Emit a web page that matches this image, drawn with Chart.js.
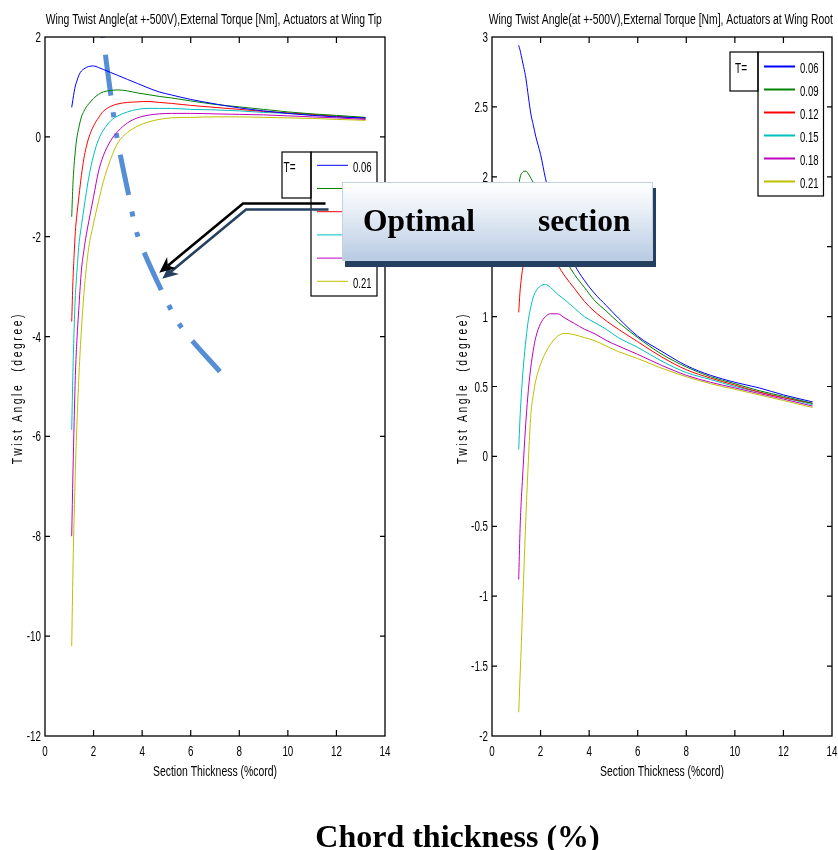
<!DOCTYPE html>
<html>
<head>
<meta charset="utf-8">
<script src="https://cdn.jsdelivr.net/npm/chart.js@4.4.1/dist/chart.umd.min.js"></script>
<style>
html,body{margin:0;padding:0;background:#fff;}
#page{position:relative;width:838px;height:850px;overflow:hidden;background:#fff;}
#page canvas{position:absolute;top:0;}
#cTip{left:0;}
#cRoot{left:420px;}
#arrow{position:absolute;left:0;top:0;}
#callout{position:absolute;left:342px;top:182px;width:311px;height:79px;box-sizing:border-box;
  border:1px solid #c3d1e4;
  background:linear-gradient(to bottom,#ffffff 0%,#edf2f8 30%,#b8cbe3 100%);
  box-shadow:3px 6px 0 #243f60;}
#callout div{position:absolute;left:20px;top:22.3px;font:bold 31.5px 'Liberation Serif','Times New Roman',serif;
  line-height:31.5px;white-space:nowrap;word-spacing:55px;color:#000;}
#chord{position:absolute;left:457.5px;top:820px;transform:translateX(-50%);
  font:bold 32px 'Liberation Serif','Times New Roman',serif;line-height:32px;white-space:nowrap;color:#000;}
</style>
</head>
<body>
<div id="page">
  <canvas id="cTip" width="420" height="790"></canvas>
  <canvas id="cRoot" width="418" height="790"></canvas>
  <svg id="arrow" width="838" height="850" xmlns="http://www.w3.org/2000/svg">
    <g transform="translate(3,6)">
      <polyline points="325.5,203.5 243,203.5 167.8,265.7" fill="none" stroke="#254061" stroke-width="2.6"/>
      <polygon points="159.3,272.7 176.1,267.9 167.8,265.7 167.1,257.1" fill="#254061"/>
    </g>
    <polyline points="325.5,203.5 243,203.5 167.8,265.7" fill="none" stroke="#000" stroke-width="2.6"/>
    <polygon points="159.3,272.7 176.1,267.9 167.8,265.7 167.1,257.1" fill="#000"/>
  </svg>
  <div id="callout"><div>Optimal section</div></div>
  <div id="chord">Chord thickness (%)</div>
</div>
<script>
// ---------------- DATA ----------------
const thickness = [1.1, 1.15, 1.2, 1.25, 1.3, 1.4, 1.5, 1.6, 1.7, 1.8, 2.0, 2.2, 2.4, 2.7, 3.0, 3.4, 3.8, 4.2, 4.7, 5.2, 6.0, 7.0, 8.0, 9.0, 10.0, 11.0, 12.0, 13.2];

const seriesLabels = ['0.06', '0.09', '0.12', '0.15', '0.18', '0.21'];
const seriesColors = ['#0000ff', '#008000', '#ff0000', '#00bfbf', '#bf00bf', '#bfbf00'];

// Actuators at wing tip
const tipT006 = [0.59,0.75,0.90,1.02,1.10, 1.24,1.32,1.36,1.39,1.41, 1.42,1.39,1.35,1.29,1.23, 1.15,1.07,0.99,0.90,0.84, 0.75,0.66,0.58,0.52,0.47, 0.43,0.40,0.38];
const tipT009 = [-1.60,-0.95,-0.55,-0.28,-0.06, 0.20,0.40,0.51,0.60,0.66, 0.77,0.85,0.90,0.93,0.94, 0.92,0.88,0.85,0.81,0.78, 0.72,0.65,0.60,0.55,0.50, 0.46,0.43,0.39];
const tipT012 = [-3.70,-2.90,-2.35,-1.90,-1.62, -1.18,-0.77,-0.44,-0.20,-0.02, 0.22,0.38,0.51,0.61,0.66, 0.69,0.70,0.71,0.69,0.67, 0.63,0.59,0.55,0.51,0.48, 0.45,0.41,0.37];
const tipT015 = [-5.87,-4.72,-3.84,-3.18,-2.80, -2.15,-1.78,-1.44,-1.12,-0.82, -0.37,-0.06,0.13,0.32,0.42, 0.50,0.55,0.57,0.57,0.57, 0.55,0.54,0.52,0.49,0.47, 0.44,0.41,0.37];
const tipT018 = [-8.00,-6.75,-5.70,-4.78,-4.20, -3.38,-2.67,-2.28,-1.96,-1.70, -1.20,-0.70,-0.38,-0.08,0.11, 0.28,0.38,0.43,0.46,0.47, 0.47,0.46,0.45,0.44,0.42, 0.40,0.38,0.35];
const tipT021 = [-10.20,-8.70,-7.60,-6.70,-5.95, -4.75,-3.85,-3.16,-2.63,-2.22, -1.73,-1.30,-0.90,-0.45,-0.12, 0.09,0.21,0.29,0.35,0.38, 0.39,0.40,0.40,0.39,0.38, 0.37,0.35,0.33];

// Actuators at wing root
const rootT006 = [2.94,2.91,2.87,2.83,2.79, 2.70,2.57,2.45,2.37,2.29, 2.16,1.99,1.85,1.68,1.53, 1.37,1.26,1.17,1.08,0.99, 0.86,0.75,0.65,0.58,0.53, 0.49,0.44,0.39];
const rootT009 = [1.94,1.99,2.02,2.03,2.04, 2.04,2.02,1.99,1.96,1.92, 1.84,1.76,1.67,1.55,1.42, 1.30,1.21,1.12,1.04,0.96, 0.85,0.73,0.64,0.57,0.52, 0.47,0.43,0.38];
const rootT012 = [1.03,1.17,1.26,1.33,1.38, 1.46,1.52,1.56,1.58,1.58, 1.55,1.50,1.45,1.37,1.29, 1.20,1.11,1.04,0.97,0.91, 0.82,0.71,0.62,0.56,0.51, 0.46,0.42,0.38];
const rootT015 = [0.05,0.26,0.42,0.55,0.66, 0.84,0.98,1.07,1.14,1.18, 1.22,1.23,1.21,1.16,1.12, 1.06,1.00,0.96,0.91,0.85, 0.78,0.68,0.60,0.55,0.50, 0.46,0.42,0.37];
const rootT018 = [-0.88,-0.55,-0.33,-0.18,-0.02, 0.26,0.48,0.64,0.76,0.85, 0.95,1.00,1.02,1.02,0.99, 0.95,0.91,0.88,0.83,0.79, 0.73,0.65,0.58,0.53,0.49, 0.45,0.41,0.36];
const rootT021 = [-1.83,-1.60,-1.38,-1.13,-0.88, -0.42,-0.02,0.30,0.44,0.54, 0.66,0.74,0.80,0.86,0.88, 0.87,0.85,0.83,0.79,0.75, 0.70,0.63,0.57,0.52,0.48, 0.44,0.40,0.35];

// hand-drawn "optimal section" guide on the tip chart (data units)
const optimalX = [2.38, 2.72, 2.96, 3.46, 3.83, 4.82, 5.64, 7.29];
const optimalY = [2.04, 0.80, 0.00, -1.20, -2.00, -3.10, -3.83, -4.75];

// ticks
const xTicks = [0, 2, 4, 6, 8, 10, 12, 14];
const tipYTicks = [-12, -10, -8, -6, -4, -2, 0, 2];
const rootYTicks = [-2, -1.5, -1, -0.5, 0, 0.5, 1, 1.5, 2, 2.5, 3];

// texts
const tipTitle = 'Wing Twist Angle(at +-500V),External Torque [Nm], Actuators at Wing Tip';
const rootTitle = 'Wing Twist Angle(at +-500V),External Torque [Nm], Actuators at Wing Root';
const xTitle = 'Section Thickness (%cord)';
const yTitle = 'Twist Angle  (degree)';
const legendTitle = 'T=';

// ---------------- RENDER ----------------
const SANS = '"Liberation Sans", Arial, "DejaVu Sans", sans-serif';
Chart.defaults.font.family = SANS;
Chart.defaults.color = '#000';

// MATLAB-like tall narrow text: regular sans squeezed horizontally
function condText(ctx, text, x, y, align, size, k) {
  ctx.save();
  ctx.translate(x, y);
  ctx.scale(k, 1);
  ctx.font = size + 'px ' + SANS;
  ctx.textAlign = align;
  ctx.textBaseline = 'alphabetic';
  ctx.fillStyle = '#000';
  ctx.fillText(text, 0, 0);
  ctx.restore();
}

function seriesData(arr) { return thickness.map((x, i) => ({x: x, y: arr[i]})); }

function makeDatasets(arrs) {
  return arrs.map((arr, i) => ({
    label: seriesLabels[i],
    data: seriesData(arr),
    borderColor: seriesColors[i],
    borderWidth: 1,
    pointRadius: 0,
    cubicInterpolationMode: 'monotone',
    fill: false
  }));
}

function matlabPlugin(cfg) {
  return {
    id: 'matlab_' + cfg.name,
    afterDatasetsDraw(chart) {
      const ctx = chart.ctx, a = chart.chartArea, xs = chart.scales.x, ys = chart.scales.y;
      ctx.save();
      ctx.strokeStyle = '#000';
      ctx.lineWidth = 1.3;
      ctx.strokeRect(a.left, a.top, a.right - a.left, a.bottom - a.top);
      ctx.lineWidth = 1.2;
      ctx.beginPath();
      xs.ticks.forEach(t => {
        if (t.value <= xs.min || t.value >= xs.max) return;
        const px = xs.getPixelForValue(t.value);
        ctx.moveTo(px, a.bottom); ctx.lineTo(px, a.bottom - 6);
        ctx.moveTo(px, a.top); ctx.lineTo(px, a.top + 6);
      });
      ys.ticks.forEach(t => {
        if (t.value <= ys.min || t.value >= ys.max) return;
        const py = ys.getPixelForValue(t.value);
        ctx.moveTo(a.left, py); ctx.lineTo(a.left + 5, py);
        ctx.moveTo(a.right, py); ctx.lineTo(a.right - 5, py);
      });
      ctx.stroke();

      // MATLAB style legend
      const L = cfg.legend;
      ctx.fillStyle = '#fff';
      ctx.fillRect(L.x, L.y, L.tw, L.th);
      ctx.fillRect(L.x + L.tw, L.y, L.w, L.h);
      ctx.strokeStyle = '#000';
      ctx.lineWidth = 1.2;
      ctx.strokeRect(L.x, L.y, L.tw, L.th);
      ctx.strokeRect(L.x + L.tw, L.y, L.w, L.h);
      condText(ctx, legendTitle, L.x + L.tdx, L.y + L.tdy, 'left', 14, 0.72);
      const bx = L.x + L.tw;
      chart.data.datasets.forEach((ds, i) => {
        if (i >= seriesLabels.length) return;
        const yy = L.y + L.row0 + i * L.step;
        ctx.strokeStyle = ds.borderColor;
        ctx.lineWidth = L.lw;
        ctx.beginPath();
        ctx.moveTo(bx + 6, yy); ctx.lineTo(bx + 37, yy);
        ctx.stroke();
        condText(ctx, seriesLabels[i], bx + 42, yy + 6.7, 'left', 14, 0.68);
      });
      ctx.restore();
    },
    afterDraw(chart) {
      const ctx = chart.ctx, a = chart.chartArea, xs = chart.scales.x, ys = chart.scales.y;
      // tick labels from the scales
      xTicks.forEach(v => condText(ctx, String(v), xs.getPixelForValue(v), a.bottom + 19.5, 'center', 14, 0.70));
      cfg.yTicks.forEach(v => condText(ctx, String(v), a.left - 4, ys.getPixelForValue(v) + 5, 'right', 14, 0.70));
      // titles
      condText(ctx, cfg.title, (a.left + a.right) / 2 - 1.2, 24, 'center', 14, 0.74);
      condText(ctx, xTitle, (a.left + a.right) / 2, a.bottom + 40, 'center', 14, 0.745);
      // rotated, letter-spaced y title
      ctx.save();
      ctx.translate(cfg.yTitleX, (a.top + a.bottom) / 2 + 1.5);
      ctx.rotate(-Math.PI / 2);
      ctx.scale(0.74, 1);
      ctx.font = '14px ' + SANS;
      try { ctx.letterSpacing = '3.5px'; } catch (e) {}
      ctx.textAlign = 'center';
      ctx.textBaseline = 'alphabetic';
      ctx.fillStyle = '#000';
      ctx.fillText(yTitle, 0, 0);
      ctx.restore();
    }
  };
}

function makeChart(canvasId, cfg) {
  const datasets = makeDatasets(cfg.series);
  if (cfg.guide) {
    datasets.push({
      label: 'optimal',
      data: optimalX.map((x, i) => ({x: x, y: optimalY[i]})),
      borderColor: '#558ed5',
      borderWidth: 5,
      borderDash: [41, 17, 5, 16, 5, 17],
      borderDashOffset: -20,
      borderCapStyle: 'butt',
      tension: 0.3,
      pointRadius: 0,
      fill: false
    });
  }
  return new Chart(document.getElementById(canvasId), {
    type: 'line',
    data: {datasets: datasets},
    options: {
      responsive: false,
      animation: false,
      devicePixelRatio: 1,
      events: [],
      layout: {padding: {top: 37, right: cfg.padRight, bottom: 0, left: 0}},
      plugins: {legend: {display: false}, tooltip: {enabled: false}, title: {display: false}},
      scales: {
        x: {
          type: 'linear', min: 0, max: 14,
          afterBuildTicks: s => { s.ticks = xTicks.map(v => ({value: v})); },
          afterFit: s => { s.height = 54; },
          ticks: {display: false},
          grid: {display: false, drawTicks: false},
          border: {display: false}
        },
        y: {
          type: 'linear', min: cfg.yMin, max: cfg.yMax,
          afterBuildTicks: s => { s.ticks = cfg.yTicks.map(v => ({value: v})); },
          afterFit: s => { s.width = cfg.yWidth; },
          ticks: {display: false},
          grid: {display: false, drawTicks: false},
          border: {display: false}
        }
      }
    },
    plugins: [matlabPlugin(cfg)]
  });
}

makeChart('cTip', {
  name: 'tip', title: tipTitle,
  series: [tipT006, tipT009, tipT012, tipT015, tipT018, tipT021],
  yMin: -12, yMax: 2, yTicks: tipYTicks, yWidth: 45, padRight: 35, yTitleX: 22,
  guide: true,
  legend: {x: 282, y: 152, tw: 29, th: 46, w: 66, h: 144, tdx: 1.5, tdy: 20, row0: 13.3, step: 23.2, lw: 1}
});

makeChart('cRoot', {
  name: 'root', title: rootTitle,
  series: [rootT006, rootT009, rootT012, rootT015, rootT018, rootT021],
  yMin: -2, yMax: 3, yTicks: rootYTicks, yWidth: 72, padRight: 6, yTitleX: 47,
  guide: false,
  legend: {x: 310, y: 52, tw: 28, th: 39, w: 65.5, h: 144, tdx: 5, tdy: 21, row0: 14.5, step: 23, lw: 2}
});
</script>
</body>
</html>
